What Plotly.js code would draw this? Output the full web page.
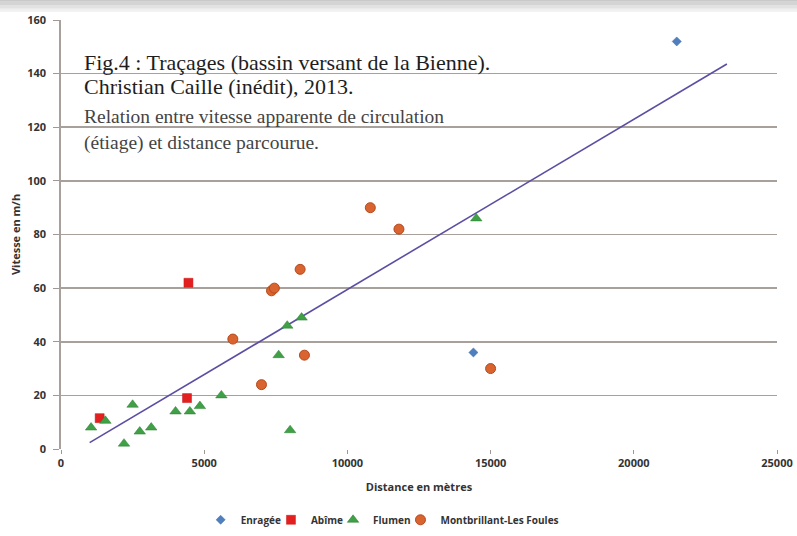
<!DOCTYPE html>
<html>
<head>
<meta charset="utf-8">
<script src="https://cdn.plot.ly/plotly-3.0.1.min.js"></script>
<style>html,body{margin:0;padding:0;background:#fff;}#chart{width:797px;height:536px;}</style>
</head>
<body>
<div id="chart"></div>
<script>
// Data
const enrageeX = [21500, 14400];
const enrageeY = [152, 36];

const abimeX = [4450, 4400, 1350];
const abimeY = [62, 19, 11.5];

const flumenX = [1050, 1550, 2500, 2200, 2750, 3150, 4000, 4500, 4850, 5600, 7600, 7900, 8400, 8000, 14500];
const flumenY = [8, 10.5, 16.5, 2, 6.5, 8, 14, 14, 16, 20, 35, 46, 49, 7, 86];

const montX = [10800, 11800, 8350, 7350, 7450, 6000, 8500, 7000, 15000];
const montY = [90, 82, 67, 59, 60, 41, 35, 24, 30];

// Trend line (linear)
const trendRange = [1000, 23250];
const trendSlope = 0.006345;
const trendIntercept = -3.95;

const xTicks = [0, 5000, 10000, 15000, 20000, 25000];
const yTicks = [0, 20, 40, 60, 80, 100, 120, 140, 160];

const titleLines = [
  "Fig.4 : Traçages (bassin versant de la Bienne).",
  "Christian Caille (inédit), 2013.",
  "Relation entre vitesse apparente de circulation",
  "(étiage) et distance parcourue."
];

const trendY = trendRange.map(x => trendIntercept + trendSlope * x);

const traces = [
  {x: trendRange, y: trendY, mode: 'lines', type: 'scatter', showlegend: false, hoverinfo: 'skip',
   line: {color: '#5b4ea3', width: 1.6}},
  {x: enrageeX, y: enrageeY, mode: 'markers', type: 'scatter', name: 'Enragée',
   marker: {symbol: 'diamond', size: 7, color: '#4f7fbf', line: {color: '#3b6aa8', width: 0.5}}},
  {x: abimeX, y: abimeY, mode: 'markers', type: 'scatter', name: 'Abîme',
   marker: {symbol: 'square', size: 9, color: '#e3201f', line: {color: '#c41a1a', width: 0.5}}},
  {x: flumenX, y: flumenY, mode: 'markers', type: 'scatter', name: 'Flumen',
   marker: {symbol: 'triangle-up', size: 10, color: '#3fa046', line: {color: '#2a7d33', width: 0.5}}},
  {x: montX, y: montY, mode: 'markers', type: 'scatter', name: 'Montbrillant-Les Foules',
   marker: {symbol: 'circle', size: 10, color: '#d9642f', line: {color: '#b44a1e', width: 1}}}
];

const sansFam = '"Open Sans", "Noto Sans", sans-serif';
const labelFont = {family: sansFam, size: 11, color: '#333333', weight: 700};

const annotations = [
  {text: titleLines[0], y: 0.900, size: 22, color: '#1e1e1e'},
  {text: titleLines[1], y: 0.844, size: 22, color: '#1e1e1e'},
  {text: titleLines[2], y: 0.774, size: 19.5, color: '#444444'},
  {text: titleLines[3], y: 0.713, size: 19.5, color: '#444444'}
].map(a => ({
  text: a.text, xref: 'paper', yref: 'paper', x: 0.03, y: a.y, xanchor: 'left', yanchor: 'middle',
  showarrow: false, font: {family: '"Liberation Serif", "DejaVu Serif", serif', size: a.size, color: a.color}
}));

const bandShapes = [
  {y0: 1.044, y1: 1.05, c: '#c9c9c9'},
  {y0: 1.035, y1: 1.044, c: '#d4d4d4'},
  {y0: 1.026, y1: 1.035, c: '#e2e2e2'},
  {y0: 1.019, y1: 1.026, c: '#f0f0f0'}
].map(b => ({type: 'rect', xref: 'paper', yref: 'paper', x0: -0.2, x1: 1.1, y0: b.y0, y1: b.y1,
  fillcolor: b.c, line: {width: 0}, layer: 'below'}));

const layout = {
  width: 797, height: 536,
  margin: {l: 61, r: 20, t: 20, b: 87, autoexpand: false},
  paper_bgcolor: '#ffffff', plot_bgcolor: '#ffffff',
  showlegend: true,
  legend: {orientation: 'h', x: 0.459, xanchor: 'center', y: -0.165, yanchor: 'middle',
           font: {family: sansFam, size: 10, color: '#333333', weight: 700},
           itemwidth: 30, indentation: -15, tracegroupgap: 0},
  xaxis: {
    range: [0, 25000], tickvals: xTicks, ticktext: xTicks.map(String),
    showgrid: false, zeroline: false, showline: false,
    ticks: 'outside', ticklen: 4, tickcolor: '#a09894',
    tickfont: labelFont,
    title: {text: 'Distance en mètres', font: {family: sansFam, size: 11, color: '#333333', weight: 700}, standoff: 14}
  },
  yaxis: {
    range: [0, 160], tickvals: yTicks, ticktext: yTicks.map(String),
    showgrid: true, gridcolor: '#a8a09b', gridwidth: 1.7,
    zeroline: false, showline: true, linecolor: '#a8a09b', linewidth: 1.7,
    ticks: 'outside', ticklen: 6, tickcolor: '#a09894', ticklabelstandoff: 5,
    tickfont: labelFont,
    title: {text: 'Vitesse en m/h', font: {family: sansFam, size: 11, color: '#333333', weight: 700}, standoff: 4}
  },
  annotations: annotations,
  shapes: bandShapes
};

Plotly.newPlot('chart', traces, layout, {displayModeBar: false, staticPlot: true});
</script>
</body>
</html>
